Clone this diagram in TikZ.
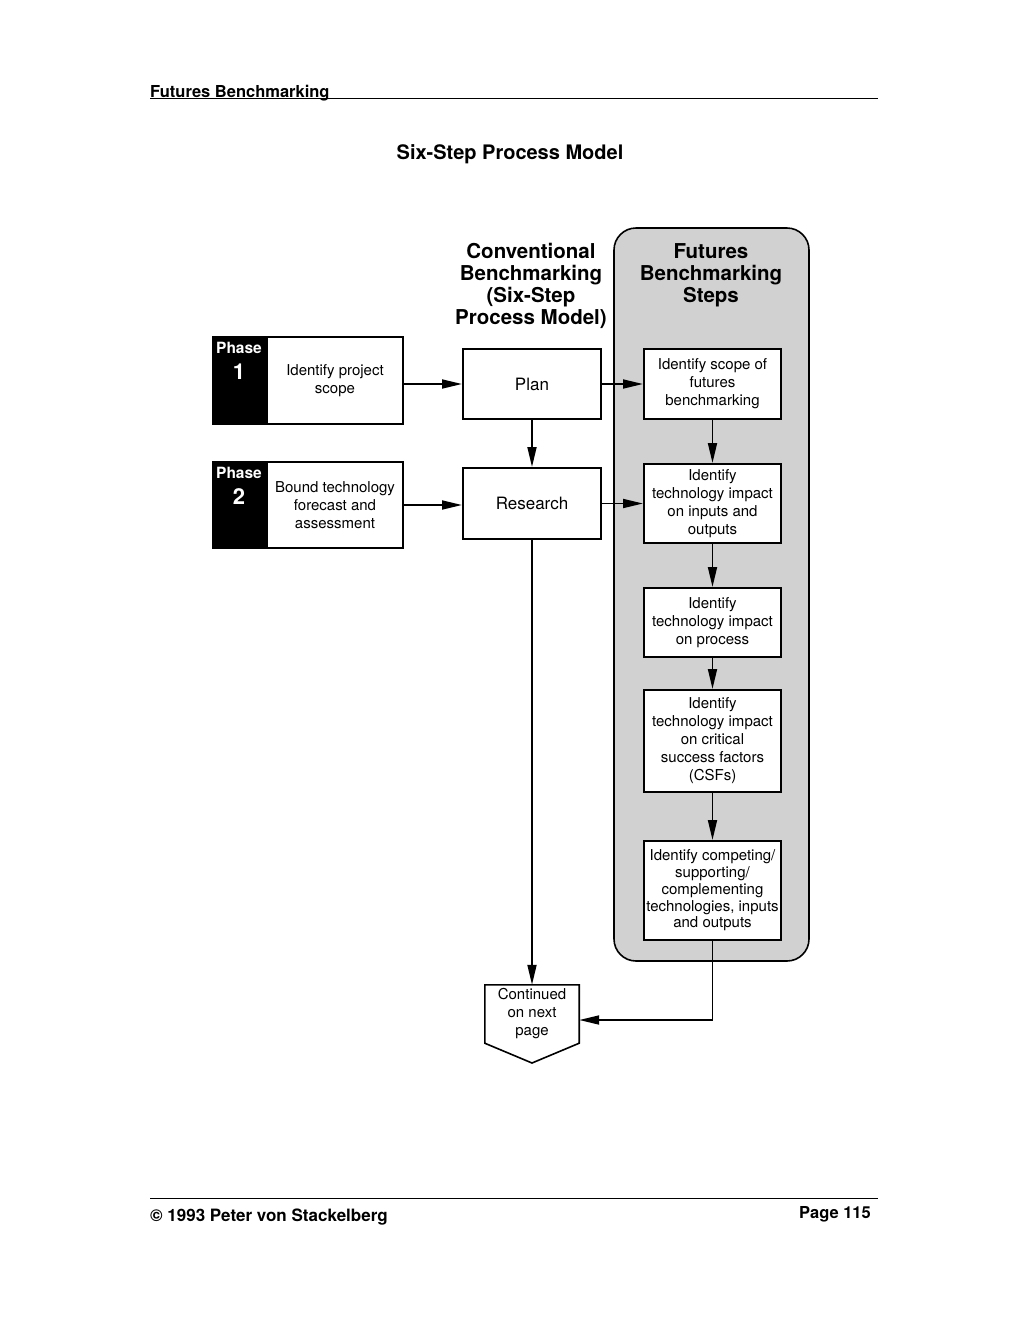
\documentclass[tikz,border=0pt]{standalone}
\usepackage{fontspec}
\setmainfont{TeX Gyre Heros}
\usetikzlibrary{arrows.meta}
\begin{document}
\begin{tikzpicture}[x=1pt,y=-1pt,
  box/.style={draw, line width=2pt, fill=white, align=center, inner sep=1pt,
    font=\fontsize{15}{18}\selectfont},
  head/.style={align=center, font=\fontsize{20.5}{22}\selectfont\bfseries},
  tag/.style={fill=black, text=white, align=center, anchor=north, inner sep=0pt},
  arr/.style={line width=1.8pt, -{Triangle[length=20pt,width=9pt]}},
  rule/.style={line width=1pt}
]
\useasboundingbox (0,0) rectangle (1024,1326);
% header
\node[anchor=base west, inner sep=0pt, font=\fontsize{16.5}{18}\selectfont\bfseries] (hdr) at (150,97) {Futures Benchmarking};
\coordinate (hl) at (150,98);
\coordinate (hr) at (878,98);
\draw[rule] (hl) -- (hr);
\node[anchor=base, inner sep=0pt, font=\fontsize{20}{22}\selectfont\bfseries] (title) at (510,159) {Six-Step Process Model};
% futures panel
\draw[line width=1.6pt, rounded corners=22pt, fill=black!18] (614,228) rectangle (809,961);
\node[head] (fhead) at (711,275) {Futures\\Benchmarking\\Steps};
\node[head] (chead) at (531,286) {Conventional\\Benchmarking\\(Six-Step\\Process Model)};
% phase boxes
\node[box, minimum width=136pt, minimum height=87pt] (p1) at (335,380.5) {Identify project\\scope};
\node[draw, line width=2pt, fill=black, minimum width=52pt, minimum height=87pt, anchor=east, inner sep=0pt] (p1t) at (p1.west) {};
\node[tag, font=\fontsize{15.5}{26}\selectfont\bfseries] (p1l) at ([yshift=-6pt]p1t.north) {Phase\\{\fontsize{22}{22}\selectfont 1}};
\node[box, minimum width=136pt, minimum height=86pt] (p2) at (335,505) {Bound technology\\forecast and\\assessment};
\node[draw, line width=2pt, fill=black, minimum width=52pt, minimum height=86pt, anchor=east, inner sep=0pt] (p2t) at (p2.west) {};
\node[tag, font=\fontsize{15.5}{26}\selectfont\bfseries] (p2l) at ([yshift=-6pt]p2t.north) {Phase\\{\fontsize{22}{22}\selectfont 2}};
% conventional column
\node[box, minimum width=138pt, minimum height=70pt, font=\fontsize{17}{18}\selectfont] (plan) at (532,384) {Plan};
\node[box, minimum width=138pt, minimum height=71pt, font=\fontsize{17}{18}\selectfont] (res) at (532,503.5) {Research};
% futures column
\node[box, minimum width=137pt, minimum height=70pt] (b1) at (712.5,384) {Identify scope of\\futures\\benchmarking};
\node[box, minimum width=137pt, minimum height=79pt] (b2) at (712.5,503.5) {Identify\\technology impact\\on inputs and\\outputs};
\node[box, minimum width=137pt, minimum height=69pt] (b3) at (712.5,622.5) {Identify\\technology impact\\on process};
\node[box, minimum width=137pt, minimum height=102pt] (b4) at (712.5,741) {Identify\\technology impact\\on critical\\success factors\\(CSFs)};
\node[box, minimum width=137pt, minimum height=99pt, inner sep=0pt, font=\fontsize{15}{16.8}\selectfont] (b5) at (712.5,890.5) {Identify competing/\\supporting/\\complementing\\technologies, inputs\\and outputs};
% continued
\node[align=center, minimum width=94pt, minimum height=58pt, inner sep=0pt, font=\fontsize{15}{18}\selectfont] (cont) at (532,1014) {Continued\\on next\\page};
\coordinate (ctip) at (532,1063);
\draw[line width=1.6pt] (cont.north west) -- (cont.north east) -- (cont.south east) -- (ctip) -- (cont.south west) -- cycle;
% connectors
\draw[arr] (p1.east |- plan.west) -- (plan.west);
\draw[arr] (p2.east) -- (res.west |- p2.east);
\draw[arr] (plan.south) -- (res.north);
\draw[arr] (plan.east) -- (b1.west);
\draw[arr] (res.east) -- (b2.west |- res.east);
\draw[arr] (b1.south) -- (b2.north);
\draw[arr] (b2.south) -- (b3.north);
\draw[arr] (b3.south) -- (b4.north);
\draw[arr] (b4.south) -- (b5.north);
\draw[arr] (res.south) -- (cont.north);
\draw[arr] (b5.south) |- ([yshift=-6pt]cont.east);
% footer
\coordinate (fl) at (150,1198);
\coordinate (fr) at (878,1198);
\draw[rule] (fl) -- (fr);
\node[anchor=base west, inner sep=0pt, font=\fontsize{17}{18}\selectfont\bfseries] (copy) at (150,1221) {\char"00A9\ 1993 Peter von Stackelberg};
\node[anchor=base east, inner sep=0pt, font=\fontsize{16.5}{18}\selectfont\bfseries] (page) at (871,1218) {Page 115};
\end{tikzpicture}
\end{document}
